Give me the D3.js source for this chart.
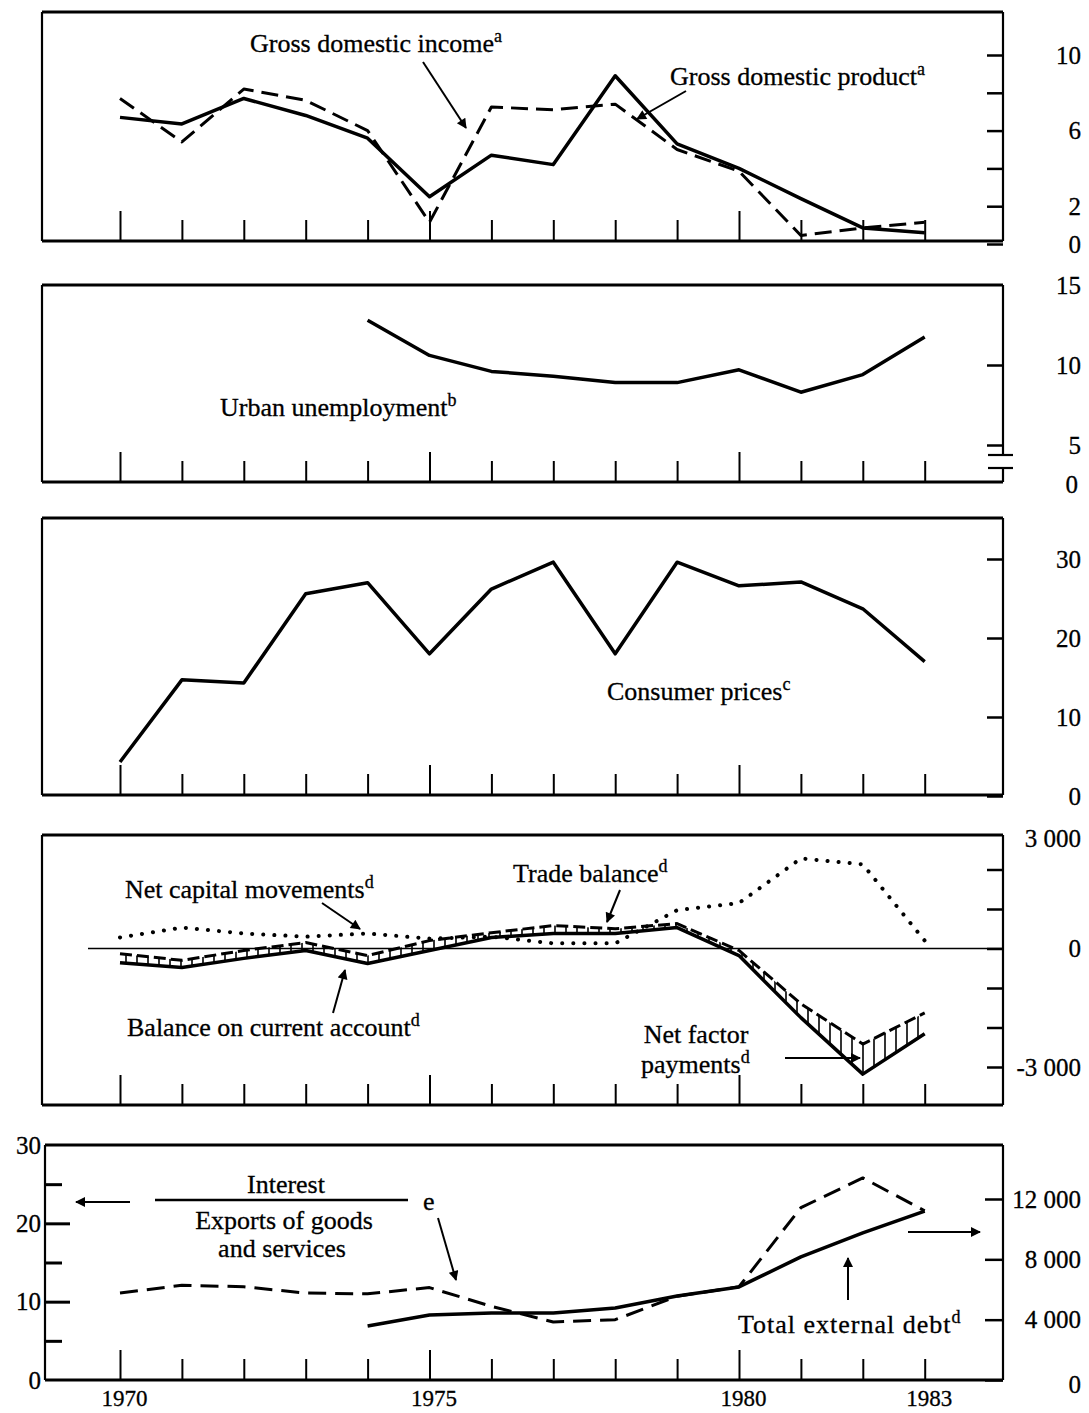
<!DOCTYPE html>
<html>
<head>
<meta charset="utf-8">
<script src="https://cdn.jsdelivr.net/npm/d3@7"></script>
<style>
body { margin: 0; background: #fff; }
text { font-family: "Liberation Serif", "DejaVu Serif", serif; fill: #000; }
</style>
</head>
<body>
<script>
// data
var years = [1970, 1971, 1972, 1973, 1974, 1975, 1976, 1977, 1978, 1979, 1980, 1981, 1982, 1983];
var gdp = [6.7, 6.35, 7.7, 6.8, 5.6, 2.5, 4.7, 4.2, 8.9, 5.3, 4.0, 2.4, 0.85, 0.6];
var gdi = [7.7, 5.4, 8.2, 7.6, 6.0, 1.15, 7.25, 7.1, 7.4, 5.0, 3.85, 0.45, 0.85, 1.15];

var unempYears = [1974, 1975, 1976, 1977, 1978, 1979, 1980, 1981, 1982, 1983];
var unemp = [12.8, 10.6, 9.6, 9.3, 8.9, 8.9, 9.7, 8.3, 9.4, 11.75];

var cpi = [4.3, 14.7, 14.3, 25.6, 27.0, 18.0, 26.2, 29.6, 18.0, 29.6, 26.6, 27.1, 23.7, 17.0];

var tradeBal = [-130, -300, -50, 150, -180, 200, 400, 580, 500, 630, -50, -1400, -2420, -1630];
var currentAcc = [-360, -480, -250, -50, -380, -50, 280, 380, 380, 530, -180, -1750, -3180, -2160];
var netCapital = [280, 530, 380, 300, 380, 250, 300, 130, 130, 970, 1150, 2280, 2130, 200];

var interestRatio = [11.1, 12.1, 11.9, 11.1, 11.0, 11.8, 9.4, 7.4, 7.7, 10.7, 11.9, 22.0, 25.8, 21.6];
var debtYears = [1974, 1975, 1976, 1977, 1978, 1979, 1980, 1981, 1982, 1983];
var debt = [3580, 4310, 4440, 4440, 4770, 5570, 6170, 8160, 9750, 11200];

var yearLabels = [1970, 1975, 1980, 1983];

var W = 1089, H = 1413;
var left = 42, right = 1003;

var svg = d3.select("body").append("svg")
    .attr("width", W)
    .attr("height", H);

var defs = svg.append("defs");
defs.append("marker")
    .attr("id", "arrow")
    .attr("viewBox", "0 0 10 10")
    .attr("refX", 9).attr("refY", 5)
    .attr("markerWidth", 6).attr("markerHeight", 5)
    .attr("markerUnits", "strokeWidth")
    .attr("orient", "auto")
  .append("path")
    .attr("d", "M0,0 L10,5 L0,10 z")
    .attr("fill", "#000");

defs.append("pattern")
    .attr("id", "hatch")
    .attr("patternUnits", "userSpaceOnUse")
    .attr("width", 11).attr("height", 11)
  .append("line")
    .attr("x1", 5).attr("y1", 0).attr("x2", 5).attr("y2", 11)
    .attr("stroke", "#000").attr("stroke-width", 1.6);

var x = d3.scaleLinear().domain([1970, 1980]).range([120, 739]);

var spaced = d3.formatLocale({decimal: ".", thousands: " ", grouping: [3], currency: ["", ""], minus: "-"}).format(",");

function frame(top, bottom, l) {
    var g = svg.append("g");
    g.append("line").attr("x1", l).attr("x2", right).attr("y1", top).attr("y2", top)
        .attr("stroke", "#000").attr("stroke-width", 3);
    g.append("line").attr("x1", l).attr("x2", right).attr("y1", bottom).attr("y2", bottom)
        .attr("stroke", "#000").attr("stroke-width", 3);
    g.append("line").attr("x1", l).attr("x2", l).attr("y1", top).attr("y2", bottom)
        .attr("stroke", "#000").attr("stroke-width", 2.2);
    return g;
}

function rightEdge(top, bottom) {
    svg.append("line").attr("x1", right).attr("x2", right).attr("y1", top).attr("y2", bottom)
        .attr("stroke", "#000").attr("stroke-width", 2.2);
}

function yearTicks(bottom) {
    var g = svg.append("g")
        .attr("transform", "translate(0," + bottom + ")")
        .call(d3.axisTop(x).tickValues(years).tickSize(21).tickFormat(""));
    g.select(".domain").remove();
    g.selectAll(".tick line").attr("stroke-width", 2)
        .filter(function (d) { return d % 5 === 0; })
        .attr("y2", -30);
}

function styleTicks(g) {
    g.selectAll(".tick text")
        .style("font-family", "'Liberation Serif', serif")
        .style("font-size", "25px")
        .attr("fill", "#000")
        .attr("stroke", "#000")
        .attr("stroke-width", 0.3);
}

function rightAxis(y, values, fmt, size) {
    var g = svg.append("g")
        .attr("transform", "translate(" + right + ",0)")
        .call(d3.axisRight(y).tickValues(values).tickSize(-(size || 16)).tickFormat(fmt));
    g.select(".domain").remove();
    g.selectAll(".tick line").attr("stroke-width", 2.5);
    g.selectAll(".tick text")
        .attr("x", 78)
        .attr("text-anchor", "end");
    styleTicks(g);
    return g;
}

function label(px, py, str, sup) {
    var t = svg.append("text")
        .attr("x", px).attr("y", py)
        .style("font-size", "26px")
        .attr("stroke", "#000")
        .attr("stroke-width", 0.3)
        .text(str);
    if (sup) {
        t.append("tspan").attr("dy", -10).style("font-size", "18px").text(sup);
    }
    return t;
}

function arrow(x1, y1, x2, y2) {
    svg.append("line")
        .attr("x1", x1).attr("y1", y1).attr("x2", x2).attr("y2", y2)
        .attr("stroke", "#000").attr("stroke-width", 2)
        .attr("marker-end", "url(#arrow)");
}

function series(xs, ys, y, dash, width) {
    var line = d3.line()
        .x(function (d) { return x(d[0]); })
        .y(function (d) { return y(d[1]); });
    svg.append("path")
        .datum(d3.zip(xs, ys))
        .attr("d", line)
        .attr("fill", "none")
        .attr("stroke", "#000")
        .attr("stroke-width", width || 3.5)
        .attr("stroke-linejoin", "round")
        .attr("stroke-linecap", dash === "dot" ? "round" : "butt")
        .attr("stroke-dasharray", dash === "dot" ? "0.1 11" : dash);
}

// ---- panel 1: GDP / GDI
var y1 = d3.scaleLinear().domain([0, 10]).range([244, 55]);
frame(12, 241, left);
rightEdge(12, 241);
yearTicks(241);
rightAxis(y1, [0, 2, 4, 6, 8, 10], function (d) { return d % 4 === 2 || d === 10 || d === 0 ? d : ""; });
series(years, gdi, y1, "17 8", 3);
series(years, gdp, y1, null, 3.5);
label(250, 52, "Gross domestic income", "a");
label(670, 85, "Gross domestic product", "a");
arrow(423, 62, 466, 128);
arrow(686, 91, 637, 119);

// ---- panel 2: urban unemployment (broken axis)
var y2 = d3.scaleLinear().domain([5, 15]).range([445, 285]);
frame(285, 482, left);
rightEdge(285, 455);
rightEdge(468, 482);
svg.append("line").attr("x1", 988).attr("x2", 1013).attr("y1", 455).attr("y2", 455)
    .attr("stroke", "#000").attr("stroke-width", 2.2);
svg.append("line").attr("x1", 988).attr("x2", 1013).attr("y1", 468).attr("y2", 468)
    .attr("stroke", "#000").attr("stroke-width", 2.2);
yearTicks(482);
var ax2 = rightAxis(y2, [5, 10, 15], function (d) { return d; });
ax2.selectAll(".tick line").filter(function (d) { return d === 15; }).remove();
svg.append("text").attr("x", 1078).attr("y", 493).attr("text-anchor", "end")
    .style("font-size", "25px").attr("stroke", "#000").attr("stroke-width", 0.3).text("0");
series(unempYears, unemp, y2, null, 3.5);
label(220, 416, "Urban unemployment", "b");

// ---- panel 3: consumer prices
var y3 = d3.scaleLinear().domain([0, 30]).range([796, 559]);
frame(518, 795, left);
rightEdge(518, 795);
yearTicks(795);
rightAxis(y3, [0, 10, 20, 30], function (d) { return d; });
series(years, cpi, y3, null, 3.5);
label(607, 700, "Consumer prices", "c");

// ---- panel 4: balance of payments
var y4 = d3.scaleLinear().domain([-3000, 3000]).range([1067, 830]);
frame(835, 1105, left);
rightEdge(835, 1105);
yearTicks(1105);
var ax4 = rightAxis(y4, [-3000, -2000, -1000, 0, 1000, 2000, 3000], function (d) { return d % 3000 === 0 ? spaced(d) : ""; });
ax4.selectAll(".tick").filter(function (d) { return d === 3000; })
    .call(function (t) { t.select("line").remove(); t.select("text").attr("y", 8); });
svg.append("line").attr("x1", 88).attr("x2", right).attr("y1", y4(0)).attr("y2", y4(0))
    .attr("stroke", "#000").attr("stroke-width", 1.5);

var band = d3.area()
    .x(function (d) { return x(d[0]); })
    .y0(function (d) { return y4(d[1]); })
    .y1(function (d) { return y4(d[2]); });
svg.append("path")
    .datum(d3.zip(years, tradeBal, currentAcc))
    .attr("d", band)
    .attr("fill", "url(#hatch)");
series(years, netCapital, y4, "dot", 4);
series(years, tradeBal, y4, "12 5", 3);
series(years, currentAcc, y4, null, 3.5);

label(125, 898, "Net capital movements", "d");
label(513, 882, "Trade balance", "d");
label(127, 1036, "Balance on current account", "d");
label(696, 1043, "Net factor").attr("text-anchor", "middle");
label(641, 1073, "payments", "d");
arrow(322, 903, 360, 929);
arrow(620, 890, 607, 922);
arrow(333, 1013, 345, 970);
arrow(785, 1058, 860, 1058);

// ---- panel 5: debt and interest ratio
var y5L = d3.scaleLinear().domain([0, 30]).range([1380, 1145]);
var y5R = d3.scaleLinear().domain([0, 12000]).range([1380, 1199]);
frame(1145, 1380, 45);
rightEdge(1145, 1380);
yearTicks(1380);
var ax5 = rightAxis(y5R, [0, 4000, 8000, 12000], function (d) { return spaced(d); }, 18);
ax5.selectAll(".tick").filter(function (d) { return d === 0; }).select("text").attr("y", 4);

var gl = svg.append("g")
    .attr("transform", "translate(45,0)")
    .call(d3.axisLeft(y5L).tickValues([0, 5, 10, 15, 20, 25, 30]).tickSize(-17)
        .tickFormat(function (d) { return d % 10 === 0 ? d : ""; }));
gl.select(".domain").remove();
gl.selectAll(".tick line").attr("stroke-width", 3)
    .filter(function (d) { return d % 10 === 0; })
    .attr("x2", 25);
gl.selectAll(".tick line").filter(function (d) { return d === 0 || d === 30; }).remove();
gl.selectAll(".tick text").attr("x", -4);
styleTicks(gl);

series(years, interestRatio, y5L, "18 9", 3);
series(debtYears, debt, y5R, null, 3.5);

var bottomAx = svg.append("g")
    .attr("transform", "translate(0,1380)")
    .call(d3.axisBottom(x).tickValues(yearLabels).tickSize(0).tickPadding(10).tickFormat(d3.format("d")));
bottomAx.select(".domain").remove();
styleTicks(bottomAx);
bottomAx.selectAll(".tick text").style("font-size", "23px").attr("x", 4);

label(247, 1193, "Interest");
svg.append("line").attr("x1", 155).attr("x2", 408).attr("y1", 1200).attr("y2", 1200)
    .attr("stroke", "#000").attr("stroke-width", 2.5);
arrow(130, 1202, 76, 1202);
label(423, 1210, "e");
label(284, 1229, "Exports of goods").attr("text-anchor", "middle");
label(282, 1257, "and services").attr("text-anchor", "middle");
arrow(438, 1218, 456, 1280);
arrow(908, 1232, 980, 1232);
label(738, 1333, "Total external debt", "d").attr("letter-spacing", 1);
arrow(848, 1300, 848, 1258);
</script>
</body>
</html>
